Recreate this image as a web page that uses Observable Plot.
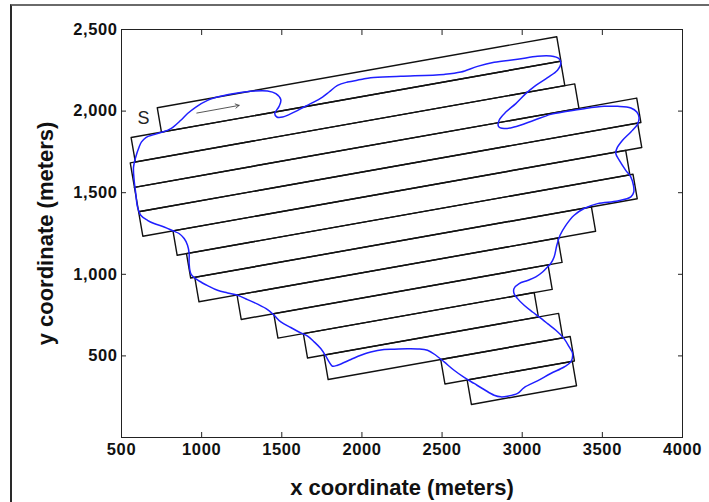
<!DOCTYPE html>
<html>
<head>
<meta charset="utf-8">
<script src="https://cdn.jsdelivr.net/npm/d3@7"></script>
<script src="https://cdn.jsdelivr.net/npm/@observablehq/plot@0.6"></script>
<style>
  body { margin: 0; background: #fff; }
  #wrap { position: relative; width: 709px; height: 502px; overflow: hidden; background: #fff; }
  #wrap svg { position: absolute; left: 0; top: 0; display: block; }
  #border { position: absolute; left: 10px; top: 4px; right: -5px; bottom: -5px;
            border-top: 2px solid #6a6a6a; border-left: 2px solid #2a2a2a; pointer-events: none; }
  #wrap svg g[aria-label="x-axis tick label"] text,
  #wrap svg g[aria-label="y-axis tick label"] text { letter-spacing: 0.6px; }
</style>
</head>
<body>
<div id="wrap"><div id="border"></div></div>
<script>
// ---- Survey strips (meters) ----
const stripOrigin = [725, 2021];     // top-left corner of the first strip
const stripHeadingDeg = 9.9;         // strip direction, degrees above east
const stripWidth = 152;              // strip width
const stripStart = [-2, -194, -226, -226, -226, -35, 24, 50, 291, 497, 658, 762, 1475, 1616];
const stripEnd   = [2528, 2526, 2589, 2955, 2934, 2832, 2852, 2562, 2323, 2234, 2120, 2248, 2295, 2282];

// ---- Vehicle track (meters) ----
const trackX = [756, 808, 870, 912, 964, 1037, 1120, 1224, 1327, 1411,
  1463, 1494, 1483, 1456, 1469, 1505, 1577, 1639, 1702, 1754,
  1795, 1848, 1910, 1993, 2055, 2243, 2513, 2617, 2721, 2825,
  2971, 3095, 3178, 3230, 3241, 3220, 3158, 3085, 3022, 2960,
  2898, 2856, 2852, 2887, 2949, 3074, 3178, 3283, 3386, 3511,
  3595, 3678, 3715, 3729, 3719, 3678, 3626, 3590, 3584, 3605,
  3646, 3678, 3694, 3696, 3678, 3595, 3470, 3386, 3324, 3272,
  3236, 3216, 3199, 3178, 3158, 3127, 3085, 3033, 2981, 2949,
  2949, 2971, 3012, 3064, 3105, 3158, 3210, 3261, 3293, 3314,
  3303, 3261, 3178, 3095, 3012, 2971, 2908, 2867, 2825, 2762,
  2700, 2638, 2575, 2513, 2461, 2409, 2347, 2284, 2201, 2138,
  2055, 1993, 1931, 1848, 1816, 1795, 1775, 1743, 1702, 1661,
  1619, 1556, 1494, 1452, 1411, 1349, 1286, 1224, 1161, 1099,
  1037, 984, 953, 932, 922, 922, 912, 891, 859, 824,
  766, 703, 662, 620, 600, 589, 579, 575, 589, 610,
  625, 652, 703, 756];
const trackY = [1872, 1893, 1944, 1985, 2025, 2066, 2091, 2111, 2123, 2123,
  2107, 2070, 2029, 1985, 1964, 1964, 1994, 2025, 2056, 2086,
  2117, 2158, 2178, 2193, 2205, 2213, 2225, 2239, 2274, 2299,
  2317, 2336, 2337, 2321, 2291, 2250, 2205, 2158, 2107, 2046,
  1994, 1944, 1907, 1893, 1902, 1944, 1980, 1999, 2015, 2029,
  2029, 2019, 1994, 1960, 1919, 1872, 1821, 1770, 1740, 1699,
  1637, 1596, 1545, 1504, 1474, 1449, 1433, 1403, 1362, 1300,
  1239, 1178, 1106, 1066, 1045, 1014, 984, 962, 943, 913,
  882, 851, 810, 769, 739, 698, 657, 606, 555, 515,
  463, 432, 392, 347, 306, 270, 253, 249, 259, 294,
  331, 368, 412, 463, 504, 535, 543, 544, 541, 539,
  524, 504, 478, 443, 437, 463, 498, 545, 586, 621,
  641, 674, 708, 749, 784, 817, 845, 872, 886, 902,
  931, 959, 980, 1005, 1066, 1127, 1178, 1219, 1250, 1265,
  1290, 1311, 1331, 1362, 1412, 1495, 1576, 1657, 1719, 1780,
  1811, 1838, 1856, 1872];

// ---- Start label and direction arrow ----
const startLabel = "S";
const startLabelPos = [637, 1954];
const arrowFrom = [970, 1988];
const arrowTo = [1234, 2035];

// ---- Axes ----
const xTicks = [500, 1000, 1500, 2000, 2500, 3000, 3500, 4000];
const yTicks = [500, 1000, 1500, 2000, 2500];
const xLabel = "x coordinate (meters)";
const yLabel = "y coordinate (meters)";

// build strip outlines
const th = stripHeadingDeg * Math.PI / 180;
const ux = Math.cos(th), uy = Math.sin(th);     // along-strip
const nx = Math.sin(th), ny = -Math.cos(th);    // across (downward)
const corner = (u, v) => ({x: stripOrigin[0] + u * ux + v * nx, y: stripOrigin[1] + u * uy + v * ny});
const stripPts = [];
stripStart.forEach((s, i) => {
  const e = stripEnd[i], v0 = i * stripWidth, v1 = (i + 1) * stripWidth;
  [[s, v0], [e, v0], [e, v1], [s, v1], [s, v0]].forEach(([u, v]) => stripPts.push({...corner(u, v), strip: i}));
});
const track = trackX.map((x, i) => ({x, y: trackY[i]}));

const font = "'Liberation Sans', Arial, Helvetica, sans-serif";
const plot = Plot.plot({
  width: 709,
  height: 502,
  marginLeft: 121,
  marginRight: 27,
  marginTop: 29,
  marginBottom: 65,
  style: {fontFamily: font, background: "transparent", color: "#111"},
  x: {domain: [500, 4000]},
  y: {domain: [0, 2500]},
  marks: [
    Plot.line(stripPts, {x: "x", y: "y", z: "strip", stroke: "#111", strokeWidth: 1.4}),
    Plot.line(track, {x: "x", y: "y", stroke: "#1f1fff", strokeWidth: 1.5, curve: "catmull-rom"}),
    Plot.arrow([0], {x1: () => arrowFrom[0], y1: () => arrowFrom[1], x2: () => arrowTo[0], y2: () => arrowTo[1],
      stroke: "#444", strokeWidth: 0.9, headLength: 7, bend: 0}),
    Plot.text([startLabel], {x: () => startLabelPos[0], y: () => startLabelPos[1], text: d => d,
      fontSize: 18, fill: "#222", fontFamily: font}),
    Plot.frame({stroke: "#222", strokeWidth: 1}),
    // inward ticks on all four sides
    Plot.axisX(xTicks, {anchor: "bottom", tickSize: -5, tickFormat: () => "", label: null, stroke: "#222"}),
    Plot.axisX(xTicks, {anchor: "top", tickSize: -5, tickFormat: () => "", label: null, stroke: "#222"}),
    Plot.axisY(yTicks, {anchor: "left", tickSize: -5, tickFormat: () => "", label: null, stroke: "#222"}),
    Plot.axisY(yTicks, {anchor: "right", tickSize: -5, tickFormat: () => "", label: null, stroke: "#222"}),
    // tick labels
    Plot.axisX(xTicks, {anchor: "bottom", tickSize: 0, tickPadding: 6, tickFormat: d => String(d), label: null,
      fontSize: 16.5, fontWeight: "bold", fill: "#111"}),
    Plot.axisY(yTicks, {anchor: "left", tickSize: 0, tickPadding: 4, tickFormat: d3.format(","), label: null,
      fontSize: 16.5, fontWeight: "bold", fill: "#111"}),
    // axis titles
    Plot.text([xLabel], {frameAnchor: "bottom", dy: 50, text: d => d, fontSize: 22, fontWeight: "bold",
      fill: "#111", lineAnchor: "middle", textAnchor: "middle"}),
    Plot.text([yLabel], {frameAnchor: "left", dx: -76, rotate: -90, text: d => d, fontSize: 22, fontWeight: "bold",
      fill: "#111", lineAnchor: "middle", textAnchor: "middle"})
  ]
});
document.getElementById("wrap").prepend(plot);
</script>
</body>
</html>
